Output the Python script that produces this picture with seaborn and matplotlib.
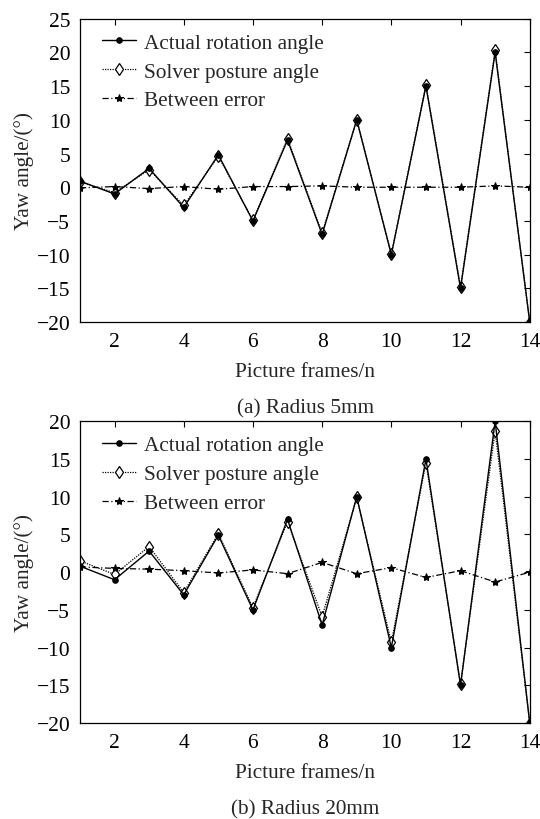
import numpy as np
import pandas as pd
import matplotlib
matplotlib.use("Agg")
import matplotlib.pyplot as plt
import seaborn as sns

frames = list(range(1, 15))

actual_a = [0.9, -1, 2.8, -3, 4.8, -5, 7, -7, 10, -10, 15, -15, 20, -20]
solver_a = [0.8, -0.8, 2.6, -2.7, 4.6, -4.9, 7.2, -6.8, 10, -9.9, 15.2, -14.8, 20.3, -20]
error_a = [-0.1, 0.1, -0.2, 0.1, -0.3, 0.1, 0.1, 0.2, 0.0, 0.0, 0.0, 0.0, 0.2, 0.0]

actual_b = [0.8, -1, 2.8, -3, 4.9, -5, 7, -7, 10, -10, 15, -15, 20, -20]
solver_b = [1.5, -0.3, 3.4, -2.7, 5.1, -4.7, 6.7, -5.9, 9.9, -9.3, 14.5, -14.8, 18.7, -20]
error_b = [0.7, 0.5, 0.4, 0.2, -0.1, 0.3, -0.2, 1.3, -0.2, 0.6, -0.7, 0.2, -1.3, 0.0]

series_names = ["Actual rotation angle", "Solver posture angle", "Between error"]
captions = ["(a) Radius 5mm", "(b) Radius 20mm"]
ylims = [(-20, 25), (-20, 20)]
xticks = [2, 4, 6, 8, 10, 12, 14]

sns.set_style("white")
plt.rcParams['font.family'] = ['Liberation Serif', 'DejaVu Serif']

fig = plt.figure(figsize=(5.4, 8.2), dpi=100)
ax1 = fig.add_axes([0.148, 0.606, 0.833, 0.370])
ax2 = fig.add_axes([0.148, 0.117, 0.833, 0.368])

panels = [(ax1, actual_a, solver_a, error_a), (ax2, actual_b, solver_b, error_b)]

for i, (ax, act, sol, err) in enumerate(panels):
    df = pd.DataFrame({"frame": frames, "act": act, "sol": sol, "err": err})
    sns.lineplot(data=df, x="frame", y="act", ax=ax, color="black", lw=1.0,
                 marker="o", markersize=4, markeredgecolor="black",
                 markerfacecolor="black", label=series_names[0], zorder=3)
    sns.lineplot(data=df, x="frame", y="sol", ax=ax, color="black", lw=0.9,
                 linestyle=(0, (1, 1)), marker="d", markersize=6.5,
                 markerfacecolor="white", markeredgecolor="black", markeredgewidth=0.9,
                 label=series_names[1], zorder=2)
    sns.lineplot(data=df, x="frame", y="err", ax=ax, color="black", lw=0.9,
                 linestyle=(0, (5, 2, 1, 2)), marker="*", markersize=6,
                 markeredgecolor="black", markerfacecolor="black",
                 label=series_names[2], zorder=4)
    ax.set_xlim(1, 14)
    ax.set_ylim(*ylims[i])
    ax.set_xticks(xticks)
    ax.set_yticks(np.arange(ylims[i][0], ylims[i][1] + 1, 5))
    ax.tick_params(direction="in", top=True, right=True, labelsize=15.5,
                   length=4, width=0.8, colors="black", pad=7)
    for s in ax.spines.values():
        s.set_color("black")
        s.set_linewidth(0.9)
    ax.set_xlabel("Picture frames/n", fontsize=15.3, labelpad=8)
    ax.set_ylabel("Yaw angle/(°)", fontsize=15.3, labelpad=2)
    leg = ax.legend(loc="upper left", frameon=False, fontsize=15.3,
                    handlelength=1.6, handletextpad=0.4, labelspacing=0.42,
                    borderaxespad=0.2, bbox_to_anchor=(0.02, 0.995))

fig.text(0.565, 0.502, captions[0], ha="center", va="center", fontsize=15.3)
fig.text(0.565, 0.012, captions[1], ha="center", va="center", fontsize=15.3)

fig.savefig("out.png", dpi=100, facecolor="white")
